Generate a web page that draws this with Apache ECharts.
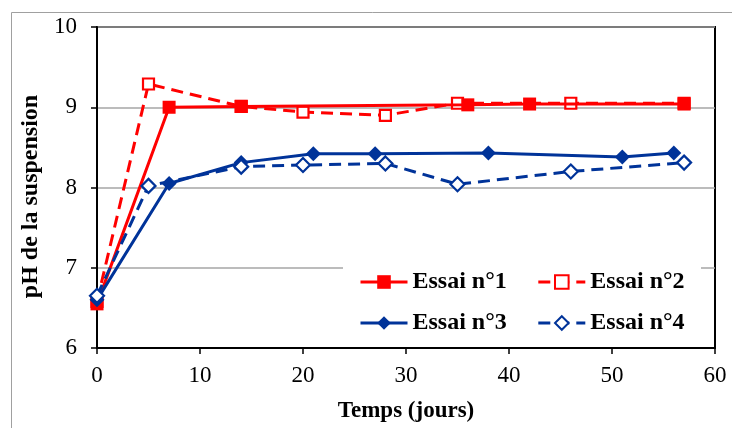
<!DOCTYPE html>
<html>
<head>
<meta charset="utf-8">
<script src="https://cdn.jsdelivr.net/npm/echarts@6/dist/echarts.min.js"></script>
<style>html,body{margin:0;padding:0;background:#fff}#c{width:732px;height:428px}</style>
</head>
<body>
<div id="c"></div>
<script>
var names = ['Essai n°1', 'Essai n°2', 'Essai n°3', 'Essai n°4'];
var x1 = [0, 7, 14, 36, 42, 57];
var y1 = [6.55, 9.0, 9.01, 9.03, 9.04, 9.04];
var x2 = [0, 5, 14, 20, 28, 35, 46, 57];
var y2 = [6.58, 9.29, 9.01, 8.94, 8.90, 9.05, 9.05, 9.05];
var x3 = [0, 7, 14, 21, 27, 38, 51, 56];
var y3 = [6.6, 8.05, 8.31, 8.42, 8.42, 8.43, 8.38, 8.43];
var x4 = [0, 5, 14, 20, 28, 35, 46, 57];
var y4 = [6.65, 8.02, 8.26, 8.28, 8.30, 8.04, 8.20, 8.31];
var xTicks = [0, 10, 20, 30, 40, 50, 60];
var yTicks = [6, 7, 8, 9, 10];

function pairs(xs, ys) { return xs.map(function (x, i) { return [x, ys[i]]; }); }

var RED = '#FF0000', BLUE = '#003399';
var FONT = '"Liberation Serif", "Times New Roman", serif';

var legendBase = {left: 359, itemWidth: 47, itemHeight: 17, itemGap: 30, z: 5, padding: 0,
  lineStyle: {width: 3},
  textStyle: {fontFamily: FONT, fontSize: 24, fontWeight: 'bold', color: '#000'}};

var chart = echarts.init(document.getElementById('c'), null, {renderer: 'canvas'});
chart.setOption({
  animation: false,
  backgroundColor: '#fff',
  textStyle: {fontFamily: FONT},
  graphic: [
    {type: 'rect', z: 0, shape: {x: 11.5, y: 12.5, width: 760, height: 440},
     style: {fill: 'none', stroke: '#A0A0A0', lineWidth: 1}},
    {type: 'rect', z: 1, shape: {x: 343, y: 256, width: 358, height: 86},
     style: {fill: '#fff'}}
  ],
  grid: {left: 97, right: 17, top: 27, bottom: 77, show: true, borderColor: '#000', borderWidth: 2, backgroundColor: 'transparent'},
  xAxis: {
    type: 'value', min: xTicks[0], max: xTicks[xTicks.length - 1], interval: 10,
    name: 'Temps (jours)', nameLocation: 'middle', nameGap: 52,
    nameTextStyle: {fontFamily: FONT, fontSize: 23, fontWeight: 'bold', color: '#000'},
    axisLine: {lineStyle: {color: '#000', width: 2}},
    axisTick: {show: true, length: 6, lineStyle: {color: '#000', width: 1.5}},
    axisLabel: {fontFamily: FONT, fontSize: 23, color: '#000', margin: 16},
    splitLine: {show: false}
  },
  yAxis: {
    type: 'value', min: yTicks[0], max: yTicks[yTicks.length - 1], interval: 1,
    name: 'pH de la suspension', nameLocation: 'middle', nameGap: 50, nameRotate: 90,
    nameTextStyle: {fontFamily: FONT, fontSize: 24, fontWeight: 'bold', color: '#000', padding: [0, 18, 0, 0]},
    axisLine: {lineStyle: {color: '#000', width: 2}},
    axisTick: {show: true, length: 6, lineStyle: {color: '#000', width: 1.5}},
    axisLabel: {fontFamily: FONT, fontSize: 23, color: '#000', margin: 20},
    splitLine: {show: true, lineStyle: {color: '#A6A6A6', width: 1.5}}
  },
  legend: [
    Object.assign({}, legendBase, {data: [names[0], names[1]], top: 270}),
    Object.assign({}, legendBase, {data: [names[2], names[3]], top: 311})
  ],
  series: [
    {name: names[1], type: 'line', z: 2, data: pairs(x2, y2), symbol: 'rect', symbolSize: 11,
     itemStyle: {color: '#fff', borderColor: RED, borderWidth: 2.2},
     lineStyle: {color: RED, width: 3, type: [12, 7]}},
    {name: names[0], type: 'line', z: 3, data: pairs(x1, y1), symbol: 'rect', symbolSize: 13,
     itemStyle: {color: RED, borderColor: RED, borderWidth: 0},
     lineStyle: {color: RED, width: 3}},
    {name: names[2], type: 'line', z: 4, data: pairs(x3, y3), symbol: 'diamond', symbolSize: [15, 15],
     itemStyle: {color: BLUE, borderColor: BLUE, borderWidth: 0},
     lineStyle: {color: BLUE, width: 3}},
    {name: names[3], type: 'line', z: 5, data: pairs(x4, y4), symbol: 'diamond', symbolSize: [14, 14],
     itemStyle: {color: '#fff', borderColor: BLUE, borderWidth: 2.2},
     lineStyle: {color: BLUE, width: 3, type: [12, 7]}}
  ]
});
</script>
</body>
</html>
